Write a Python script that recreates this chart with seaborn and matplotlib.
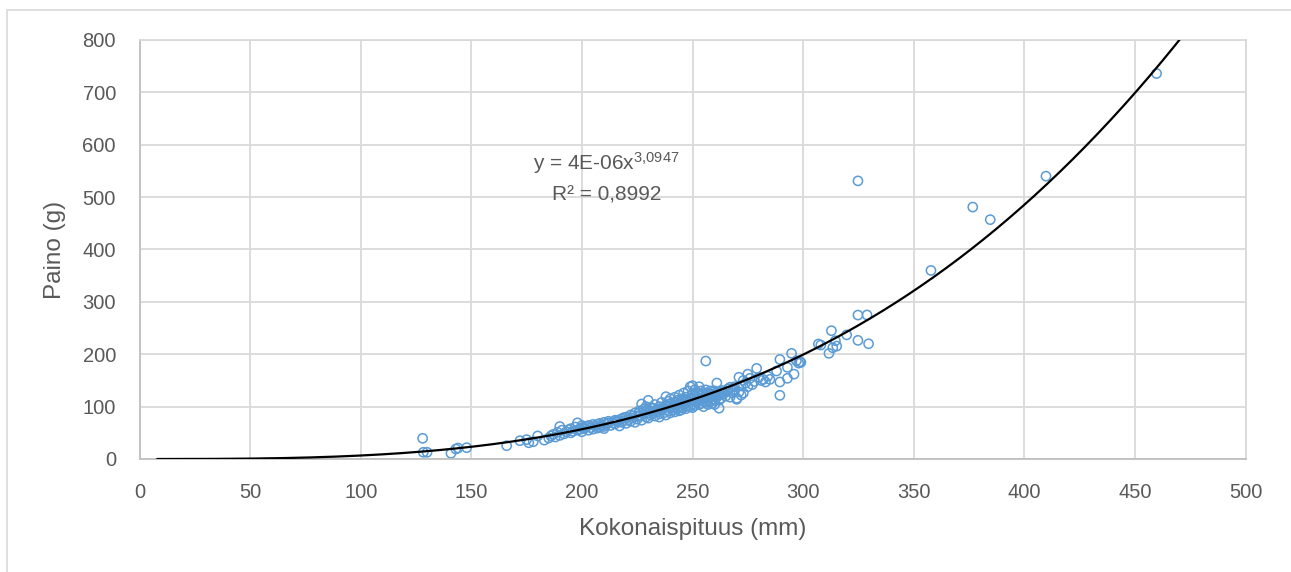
import numpy as np
import pandas as pd
import matplotlib
matplotlib.use("Agg")
import matplotlib.pyplot as plt
import seaborn as sns
from matplotlib.patches import Rectangle

# ---- data ----
length_mm = [
    128, 128.3, 130, 140.8, 143, 144, 147.9, 166,
    172, 175, 176, 178, 180, 183, 185, 186, 187, 188, 189, 190,
    190, 191, 192, 193, 194, 195, 195, 196, 197, 198, 198, 199, 200, 200, 200,
    201, 202, 203, 204, 205, 205, 206, 207, 208, 208, 209, 210, 210, 210, 211, 212, 213, 214,
    215, 215, 216, 217, 218, 218, 219, 220, 220, 221, 222, 222, 223, 224, 224, 225, 225, 226, 226, 227, 227, 228,
    228, 229, 229, 230, 230, 230, 231, 231, 232, 232, 233, 233, 234, 234, 235, 235, 235, 236, 236, 237, 237, 238, 238, 238, 239, 239, 240, 240, 240, 240,
    241, 241, 242, 242, 242, 243, 243, 243, 244, 244, 244, 245, 245, 245, 245, 246, 246, 246, 247, 247, 247, 248, 248, 248, 249, 249, 249, 250, 250, 250, 250, 250, 251, 251, 251, 252, 252, 252, 253, 253,
    253, 254, 254, 254, 255, 255, 255, 255, 256, 256, 256, 256, 257, 257, 257, 258, 258, 258, 259, 259, 259, 260, 260, 260, 260, 261, 261, 261, 262, 262, 262, 263, 263, 264, 265,
    266, 267, 267, 268, 269, 270, 270, 271, 271, 272, 272, 273, 273, 274, 275, 275, 276, 277, 278, 279, 280, 281, 283, 282,
    284, 285, 288, 289.5, 289.5, 289.5, 292.9, 292.9, 294.8, 295.9, 297, 298, 299, 298.6,
    306.9, 308, 311.7, 312.8, 313.4, 314.6, 315.2, 319.7, 324.8, 324.8, 328.9, 329.6,
    324.8, 357.8, 376.7, 384.6, 409.8, 459.8,
    # extra points filling the dense middle of the cloud
    203, 207, 212, 216, 219, 223, 226, 229, 231, 233, 236, 238, 241, 243, 244, 246, 247, 249,
    251, 252, 253, 254, 256, 257, 258, 259, 261, 263, 264, 266, 268, 269,
]
weight_g = [
    39.5, 12.8, 12.8, 10.9, 19, 21, 21.6, 25.4,
    35, 37, 31, 33, 44, 36, 40, 44, 47, 42, 51, 45,
    62, 55, 48, 52, 56, 50, 58, 53, 61, 69, 55, 57, 52, 60, 64,
    58, 62, 55, 60, 57, 66, 63, 59, 68, 61, 64, 62, 70, 58, 66, 72, 64, 69,
    67, 74, 71, 63, 77, 70, 73, 68, 80, 75, 72, 84, 78, 70, 88, 81, 76, 92, 83, 74, 105, 86,
    95, 80, 100, 88, 112, 78, 92, 84, 97, 88, 82, 104, 90, 95, 86, 100, 80, 93, 108, 88, 98, 84, 103, 119, 92, 110, 97, 88, 106, 115,
    94, 101, 90, 108, 118, 96, 103, 112, 92, 100, 122, 98, 106, 115, 94, 104, 110, 126, 100, 96, 118, 108, 130, 102, 112, 100, 138, 105, 115, 124, 98, 140, 110, 102, 132, 108, 118, 128, 104, 138,
    112, 120, 106, 130, 110, 100, 125, 116, 108, 122, 187, 132, 112, 104, 126, 118, 110, 130, 114, 106, 124, 120, 112, 130, 104, 118, 126, 145, 97, 122, 112, 128, 116, 124, 120,
    130, 137, 118, 126, 132, 116, 114, 156, 128, 140, 122, 150, 126, 145, 162, 138, 154, 142, 148, 173, 156, 150, 147, 152,
    158, 152, 168, 190, 147, 121.6, 175, 154, 201.7, 162, 187.6, 183, 184.5, 185.7,
    219.5, 217.6, 201.7, 245, 212.4, 225.8, 215.6, 237, 226.5, 274.8, 275, 220,
    531, 360, 481, 457, 540, 736,
    64, 66, 69, 74, 79, 82, 88, 93, 98, 91, 96, 101, 99, 108, 105, 113, 109, 117,
    120, 113, 124, 115, 117, 121, 125, 119, 122, 131, 127, 134, 130, 138,
]

# power trendline reported by the chart
trend_a = 4.3e-06
trend_b = 3.0947
trend_x_start = 8
eq_text = "y = 4E-06x$^{3{,}0947}$"
r2_text = "R² = 0,8992"

x_ticks = [0, 50, 100, 150, 200, 250, 300, 350, 400, 450, 500]
y_ticks = [0, 100, 200, 300, 400, 500, 600, 700, 800]

df = pd.DataFrame({"x": length_mm, "y": weight_g})
tx = np.linspace(trend_x_start, 500, 600)
trend = pd.DataFrame({"x": tx, "y": trend_a * tx ** trend_b})

# ---- style ----
sns.set_theme(style="white")
plt.rcParams["font.family"] = ["Liberation Sans", "DejaVu Sans"]
plt.rcParams["mathtext.fontset"] = "custom"
plt.rcParams["mathtext.rm"] = "Liberation Sans"
plt.rcParams["mathtext.it"] = "Liberation Sans"
plt.rcParams["mathtext.default"] = "regular"
text_col = "#595959"
grid_col = "#D9D9D9"

fig = plt.figure(figsize=(12.91, 5.72), dpi=100)
ax = fig.add_axes([139.5 / 1291, 1 - 459 / 572, (1245.5 - 139.5) / 1291, (459 - 40) / 572])

# outer chart border
fig.patches.append(Rectangle((7 / 1291, -0.1), 1.2, (572 - 10) / 572 + 0.1,
                             transform=fig.transFigure, fill=False,
                             edgecolor=grid_col, linewidth=1.2, zorder=0))

sns.lineplot(data=trend, x="x", y="y", ax=ax, color="black", linewidth=1.6,
             zorder=3, clip_on=True)
sns.scatterplot(data=df, x="x", y="y", ax=ax, marker="o", s=44,
                facecolors="none", edgecolor="#5B9BD5", linewidth=1.1, zorder=2)

ax.set_xlim(0, 500)
ax.set_ylim(0, 800)
ax.set_xticks(x_ticks)
ax.set_yticks(y_ticks)
ax.grid(True, color=grid_col, linewidth=1.3)
ax.set_axisbelow(True)
for side in ["top", "right"]:
    ax.spines[side].set_color(grid_col)
    ax.spines[side].set_linewidth(1.3)
for side in ["left", "bottom"]:
    ax.spines[side].set_color("#BFBFBF")
    ax.spines[side].set_linewidth(1.3)

ax.tick_params(axis="both", length=0, labelsize=14.5, labelcolor=text_col)
ax.tick_params(axis="x", pad=17)
ax.tick_params(axis="y", pad=17)

ax.set_xlabel("Kokonaispituus (mm)", fontsize=17.5, color=text_col, labelpad=12)
ax.set_ylabel("Paino (g)", fontsize=17.5, color=text_col, labelpad=12)

ax.text(211, 565, eq_text, fontsize=15, color=text_col, ha="center", va="center")
ax.text(211, 504, r2_text, fontsize=15, color=text_col, ha="center", va="center")

fig.savefig("out.png", dpi=100)
